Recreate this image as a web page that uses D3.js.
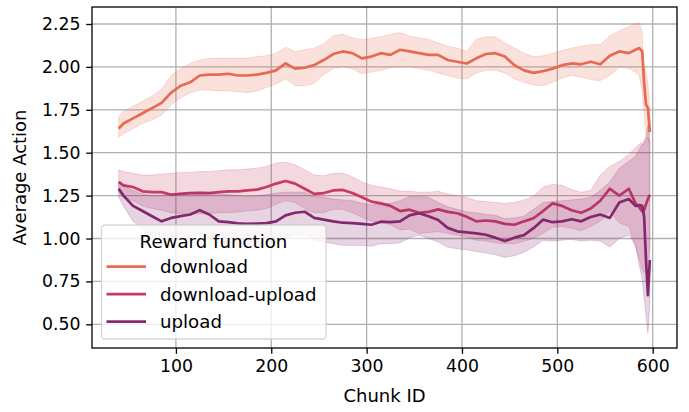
<!DOCTYPE html>
<html lang="en">
<head>
<meta charset="UTF-8" />
<title>Average Action per Chunk</title>
<style>
    body { margin: 0; background: #fff; }
    svg { display: block; font-family: "DejaVu Sans", sans-serif; }
</style>
</head>
<body>
<div id="chart"></div>
<script src="https://d3js.org/d3.v7.min.js"></script>
<script>
const chunk = [40, 45, 55, 65, 75, 85, 95, 105, 115, 125, 135, 145, 155, 165, 175, 185, 195, 205, 215, 225,
    235, 245, 255, 265, 275, 285, 295, 305, 315, 325, 335, 345, 355, 365, 375, 385, 395, 405, 415, 425,
    435, 445, 455, 465, 475, 485, 495, 505, 515, 525, 535, 545, 555, 565, 575, 582, 586, 589, 591, 593, 595, 597];

const downloadMean = [1.64, 1.67, 1.70, 1.73, 1.76, 1.79, 1.85, 1.89, 1.91, 1.95, 1.955, 1.955, 1.96, 1.95, 1.95, 1.955, 1.965, 1.98, 2.02, 1.99,
    1.995, 2.01, 2.04, 2.075, 2.09, 2.08, 2.05, 2.06, 2.08, 2.07, 2.10, 2.09, 2.08, 2.07, 2.07, 2.04, 2.03, 2.02, 2.05, 2.075,
    2.08, 2.06, 2.01, 1.98, 1.965, 1.975, 1.99, 2.01, 2.02, 2.015, 2.03, 2.015, 2.065, 2.09, 2.08, 2.10, 2.11, 2.09, 1.91, 1.78, 1.76, 1.62];
const downloadHi = [1.71, 1.74, 1.77, 1.80, 1.83, 1.87, 1.95, 1.99, 2.02, 2.04, 2.05, 2.05, 2.05, 2.05, 2.05, 2.06, 2.065, 2.08, 2.115, 2.09,
    2.10, 2.11, 2.135, 2.18, 2.19, 2.17, 2.16, 2.165, 2.175, 2.19, 2.20, 2.18, 2.17, 2.16, 2.14, 2.12, 2.11, 2.09, 2.16, 2.175,
    2.175, 2.14, 2.11, 2.08, 2.06, 2.065, 2.08, 2.095, 2.11, 2.12, 2.13, 2.13, 2.18, 2.21, 2.235, 2.25, 2.255, 2.20, 2.0, 1.98, 1.90, 1.77];
const downloadLo = [1.59, 1.61, 1.64, 1.67, 1.69, 1.72, 1.78, 1.82, 1.85, 1.865, 1.865, 1.86, 1.86, 1.855, 1.85, 1.86, 1.88, 1.90, 1.93, 1.89,
    1.89, 1.905, 1.955, 1.99, 2.0, 1.99, 1.96, 1.97, 1.98, 1.995, 2.0, 2.0, 1.99, 1.98, 1.965, 1.95, 1.935, 1.93, 1.965, 1.98,
    1.98, 1.965, 1.93, 1.91, 1.895, 1.89, 1.91, 1.935, 1.95, 1.94, 1.925, 1.92, 1.95, 2.0, 1.99, 1.97, 1.95, 1.85, 1.72, 1.62, 1.58, 1.55];

const dlulMean = [1.33, 1.31, 1.30, 1.275, 1.27, 1.27, 1.255, 1.26, 1.265, 1.265, 1.265, 1.27, 1.275, 1.275, 1.28, 1.285, 1.30, 1.32, 1.335, 1.32,
    1.29, 1.26, 1.265, 1.28, 1.283, 1.265, 1.24, 1.215, 1.205, 1.19, 1.16, 1.168, 1.15, 1.155, 1.17, 1.155, 1.147, 1.127, 1.10, 1.105,
    1.10, 1.085, 1.08, 1.10, 1.118, 1.16, 1.205, 1.19, 1.165, 1.15, 1.175, 1.22, 1.29, 1.25, 1.29, 1.205, 1.18, 1.16, 1.165, 1.20, 1.23, 1.255];
const dlulHi = [1.40, 1.39, 1.38, 1.37, 1.37, 1.375, 1.38, 1.385, 1.385, 1.39, 1.39, 1.395, 1.40, 1.40, 1.405, 1.41, 1.42, 1.44, 1.445, 1.43,
    1.40, 1.37, 1.365, 1.38, 1.38, 1.36, 1.33, 1.31, 1.30, 1.29, 1.275, 1.275, 1.27, 1.27, 1.275, 1.26, 1.25, 1.24, 1.22, 1.215,
    1.21, 1.205, 1.21, 1.225, 1.245, 1.30, 1.315, 1.31, 1.285, 1.27, 1.28, 1.37, 1.42, 1.45, 1.49, 1.53, 1.55, 1.56, 1.57, 1.58, 1.59, 1.55];
const dlulLo = [1.27, 1.24, 1.22, 1.19, 1.175, 1.165, 1.15, 1.145, 1.145, 1.145, 1.145, 1.15, 1.15, 1.155, 1.16, 1.165, 1.175, 1.20, 1.22, 1.21,
    1.175, 1.15, 1.15, 1.17, 1.17, 1.15, 1.125, 1.10, 1.095, 1.08, 1.05, 1.055, 1.03, 1.035, 1.04, 1.03, 1.02, 1.01, 0.99, 0.985,
    0.975, 0.97, 0.97, 0.985, 1.0, 1.03, 1.065, 1.07, 1.06, 1.045, 1.07, 1.10, 1.16, 1.09, 1.07, 0.95, 0.88, 0.82, 0.80, 0.82, 0.86, 0.95];

const uploadMean = [1.29, 1.25, 1.19, 1.16, 1.13, 1.10, 1.12, 1.13, 1.14, 1.165, 1.14, 1.10, 1.095, 1.088, 1.085, 1.087, 1.09, 1.10, 1.135, 1.15,
    1.156, 1.12, 1.11, 1.10, 1.092, 1.09, 1.085, 1.08, 1.098, 1.095, 1.10, 1.135, 1.147, 1.13, 1.108, 1.062, 1.042, 1.036, 1.03, 1.022,
    1.005, 0.985, 1.005, 1.02, 1.06, 1.11, 1.095, 1.10, 1.112, 1.10, 1.125, 1.14, 1.12, 1.21, 1.23, 1.19, 1.195, 1.19, 1.13, 0.875, 0.67, 0.875];
const uploadHi = [1.33, 1.31, 1.28, 1.26, 1.25, 1.25, 1.26, 1.265, 1.27, 1.275, 1.27, 1.26, 1.255, 1.25, 1.245, 1.25, 1.255, 1.265, 1.27, 1.27,
    1.27, 1.245, 1.24, 1.23, 1.225, 1.22, 1.205, 1.195, 1.20, 1.205, 1.22, 1.245, 1.245, 1.24, 1.21, 1.185, 1.17, 1.155, 1.15, 1.14,
    1.135, 1.115, 1.12, 1.13, 1.17, 1.21, 1.215, 1.22, 1.225, 1.23, 1.24, 1.28, 1.33, 1.41, 1.45, 1.48, 1.52, 1.55, 1.55, 1.60, 1.66, 1.55];
const uploadLo = [1.24, 1.19, 1.10, 1.06, 1.01, 0.98, 0.985, 0.995, 1.0, 1.03, 1.0, 0.97, 0.96, 0.955, 0.95, 0.95, 0.955, 0.965, 1.0, 1.02,
    1.025, 0.99, 0.98, 0.97, 0.96, 0.96, 0.96, 0.955, 0.97, 0.97, 0.975, 1.005, 1.02, 1.0, 0.98, 0.95, 0.94, 0.935, 0.925, 0.915,
    0.905, 0.89, 0.9, 0.92, 0.95, 0.99, 0.985, 0.99, 0.995, 0.985, 0.99, 0.985, 0.95, 1.0, 1.02, 0.96, 0.84, 0.77, 0.65, 0.55, 0.45, 0.62];

const seriesNames = ['download', 'download-upload', 'upload'];
const seriesColors = ['#e76a52', '#c63a63', '#84296f'];
const xTicks = [100, 200, 300, 400, 500, 600];
const yTicks = [0.5, 0.75, 1.0, 1.25, 1.5, 1.75, 2.0, 2.25];

const W = 689, H = 412;
const m = { left: 92, right: 677, top: 7, bottom: 348 };
const tickFs = 17.3, labelFs = 18, legendFs = 18.2;

const series = [
    { mean: downloadMean, lo: downloadLo, hi: downloadHi },
    { mean: dlulMean, lo: dlulLo, hi: dlulHi },
    { mean: uploadMean, lo: uploadLo, hi: uploadHi }
].map((s, i) => ({
    name: seriesNames[i],
    color: seriesColors[i],
    pts: chunk.map((c, j) => ({ c, v: s.mean[j], lo: s.lo[j], hi: s.hi[j] }))
}));

const x = d3.scaleLinear().domain([12, 625.5]).range([m.left, m.right]);
const y = d3.scaleLinear().domain([0.362, 2.349]).range([m.bottom, m.top]);

const svg = d3.select('#chart').append('svg').attr('width', W).attr('height', H);

svg.append('defs').append('clipPath').attr('id', 'clip')
    .append('rect').attr('x', m.left).attr('y', m.top)
    .attr('width', m.right - m.left).attr('height', m.bottom - m.top);

// grid
const grid = svg.append('g');
grid.selectAll('.gx').data(xTicks).join('line')
    .attr('x1', d => x(d)).attr('x2', d => x(d)).attr('y1', m.top).attr('y2', m.bottom)
    .attr('stroke', '#b0b0b0').attr('stroke-width', 1.3);
grid.selectAll('.gy').data(yTicks).join('line')
    .attr('y1', d => y(d)).attr('y2', d => y(d)).attr('x1', m.left).attr('x2', m.right)
    .attr('stroke', '#b0b0b0').attr('stroke-width', 1.3);

const line = d3.line().x(d => x(d.c)).y(d => y(d.v));
const area = d3.area().x(d => x(d.c)).y0(d => y(d.lo)).y1(d => y(d.hi));

const plot = svg.append('g').attr('clip-path', 'url(#clip)');
series.forEach(s => {
    plot.append('path').datum(s.pts).attr('d', line)
        .attr('fill', 'none').attr('stroke', s.color).attr('stroke-width', 2.7)
        .attr('stroke-linejoin', 'round');
    plot.append('path').datum(s.pts).attr('d', area)
        .attr('fill', s.color).attr('fill-opacity', 0.2)
        .attr('stroke', s.color).attr('stroke-opacity', 0.2).attr('stroke-width', 1);
});

// axes
const xAxis = svg.append('g').attr('transform', `translate(0,${m.bottom})`)
    .call(d3.axisBottom(x).tickValues(xTicks).tickSize(5.8).tickPadding(5.8).tickFormat(d3.format('d')));
const yAxis = svg.append('g').attr('transform', `translate(${m.left},0)`)
    .call(d3.axisLeft(y).tickValues(yTicks).tickSize(5.8).tickPadding(5.8).tickFormat(d3.format('.2f')));
[xAxis, yAxis].forEach(a => {
    a.select('.domain').remove();
    a.selectAll('line').attr('stroke', '#000').attr('stroke-width', 1.3);
    a.selectAll('text').attr('font-size', tickFs).attr('font-family', '"DejaVu Sans", sans-serif').attr('fill', '#000');
});

svg.append('rect').attr('x', m.left).attr('y', m.top)
    .attr('width', m.right - m.left).attr('height', m.bottom - m.top)
    .attr('fill', 'none').attr('stroke', '#000').attr('stroke-width', 1.3);

svg.append('text').attr('x', (m.left + m.right) / 2).attr('y', 402)
    .attr('text-anchor', 'middle').attr('font-size', labelFs).text('Chunk ID');
svg.append('text').attr('transform', `translate(26,${(m.top + m.bottom) / 2}) rotate(-90)`)
    .attr('text-anchor', 'middle').attr('font-size', labelFs).text('Average Action');

// legend
const lg = svg.append('g').attr('transform', 'translate(101.5,225)');
lg.append('rect').attr('width', 224.5).attr('height', 114).attr('rx', 3.5)
    .attr('fill', '#fff').attr('fill-opacity', 0.8)
    .attr('stroke', '#cccccc').attr('stroke-opacity', 0.8).attr('stroke-width', 1.3);
lg.append('text').attr('x', 112).attr('y', 22.6).attr('text-anchor', 'middle')
    .attr('font-size', legendFs).text('Reward function');
series.forEach((s, i) => {
    const yy = 41.7 + i * 27.5;
    lg.append('line').attr('x1', 5).attr('x2', 44.5).attr('y1', yy).attr('y2', yy)
        .attr('stroke', s.color).attr('stroke-width', 2.7);
    lg.append('text').attr('x', 58.5).attr('y', yy + 6.6).attr('font-size', legendFs).text(s.name);
});
</script>
</body>
</html>
